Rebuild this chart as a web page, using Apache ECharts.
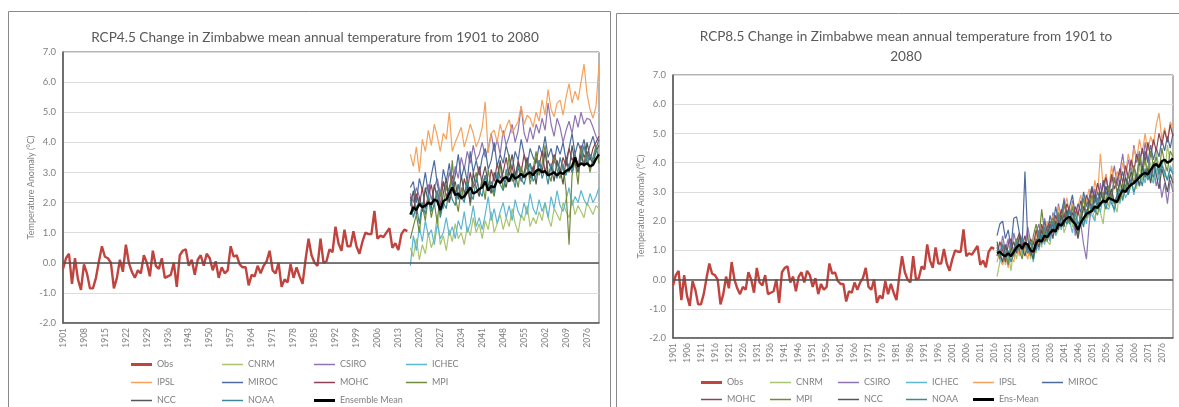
<!DOCTYPE html>
<html><head><meta charset="utf-8">
<script src="https://cdn.jsdelivr.net/npm/echarts@6/dist/echarts.min.js"></script>
<style>html,body{margin:0;padding:0;background:#fff}#c{width:1179px;height:407px}</style>
</head><body><div id="c"></div>
<script>
// ---------- categories ----------
const firstYear = 1901, lastYear = 2080, projStart = 2017;
const years = [];
for (let y = firstYear; y <= lastYear; y++) years.push(String(y));

// ---------- observed anomaly 1901-2016 ----------
const obs = [
 -0.2, 0.15, 0.3, -0.7, 0.15, -0.55, -0.9, -0.05, -0.35, -0.85,
 -0.85, -0.5, 0.05, 0.55, 0.2, 0.15, 0.0, -0.85, -0.5, 0.1,
 -0.3, 0.6, 0.0, -0.3, -0.5, -0.25, -0.35, 0.25, 0.0, -0.45,
 0.4, -0.1, -0.2, 0.15, -0.5, -0.45, -0.4, 0.0, -0.8, 0.25,
 0.4, 0.45, -0.1, 0.1, -0.4, 0.1, 0.25, -0.1, 0.3, 0.15,
 -0.25, 0.05, -0.5, -0.15, -0.35, -0.25, 0.55, 0.2, 0.25, -0.05,
 -0.15, -0.15, -0.75, -0.4, -0.45, -0.1, -0.35, -0.1, 0.05, 0.4,
 -0.25, -0.35, 0.0, -0.8, -0.55, -0.65, -0.05, -0.5, -0.15, -0.45,
 -0.7, 0.1, 0.8, 0.25, 0.0, -0.1, 0.8, 0.0, 0.05, 0.45,
 0.35, 1.2, 0.65, 0.4, 1.1, 0.55, 0.55, 1.05, 0.55, 0.3,
 0.7, 1.0, 0.95, 0.95, 1.72, 0.8, 0.9, 0.85, 1.0, 1.15,
 0.5, 0.65, 0.42, 0.95, 1.1, 1.05
];

// ---------- RCP4.5 projections 2017-2080 ----------
const cnrm45 = [0.5,0.2,0.8,0.1,0.6,0.3,1.0,0.5,0.8,1.6, 0.6,0.9,0.4,1.1,0.7,1.3,0.8,1.0,0.6,1.2, 0.9,1.5,1.0,1.3,0.8,1.4,1.1,1.7,1.0,1.3, 1.6,1.1,1.5,1.2,1.8,1.3,1.0,1.6,1.4,1.9, 1.2,1.5,1.3,1.7,1.4,2.0,1.5,1.2,1.8,1.6, 1.4,2.0,1.7,1.5,2.1,1.6,1.9,1.7,1.5,2.0, 1.8,1.6,1.9,1.8];
const csiro45 = [2.3,2.0,2.5,2.2,1.8,2.4,2.6,2.1,2.5,2.8, 2.3,2.7,2.4,3.0,2.6,3.2,2.8,3.5,3.1,3.7, 3.3,3.9,3.4,3.6,4.0,3.5,3.8,4.3,3.7,4.1, 3.6,4.4,3.9,4.2,4.6,4.0,4.4,5.2,4.3,4.0, 4.5,4.1,4.6,4.3,4.8,4.4,5.3,4.6,4.2,4.8, 4.5,4.0,4.4,4.7,4.3,4.9,4.5,5.0,4.6,4.8, 4.75,4.5,4.2,4.0];
const ichec45 = [-0.1,0.9,0.4,1.2,0.7,1.4,0.9,1.1,0.6,1.3, 0.8,1.0,1.5,0.9,1.2,0.8,1.4,1.1,1.7,1.0, 1.3,1.9,1.2,1.5,1.1,1.6,2.2,1.4,1.8,1.3, 1.7,2.0,1.5,1.9,1.4,2.1,1.7,1.5,2.0,1.6, 2.3,1.8,1.6,2.1,1.7,2.0,1.5,2.2,1.8,2.4, 1.9,1.7,2.1,2.5,1.9,2.2,2.0,2.4,2.1,1.9, 2.3,2.0,2.2,2.5];
const ipsl45 = [3.6,3.2,3.85,3.0,4.1,3.7,4.4,3.9,4.6,4.2, 3.7,4.3,4.1,5.0,3.7,4.0,4.25,4.5,3.85,4.2, 4.6,4.3,3.85,4.1,4.5,5.35,3.65,4.3,4.4,4.0, 4.6,4.2,4.5,4.75,4.3,4.5,4.7,5.2,4.6,4.9, 4.8,4.5,5.0,4.7,5.4,4.9,5.75,5.1,4.85,5.3, 5.4,4.9,5.5,5.95,5.3,5.7,5.4,6.0,6.6,5.6, 5.1,4.8,5.2,6.6];
const miroc45 = [2.5,2.7,2.0,2.8,2.4,3.0,2.3,2.9,3.4,2.6, 2.2,3.1,2.7,3.3,2.5,2.9,3.6,2.8,3.2,2.7, 3.7,3.0,3.4,2.9,3.5,3.8,3.1,3.4,4.0,3.2, 3.6,3.3,3.9,3.5,3.1,3.7,3.4,4.1,3.6,3.2, 3.8,3.5,3.3,3.9,3.6,4.2,3.5,3.8,3.3,3.9, 3.6,4.0,3.4,3.8,4.3,3.6,4.0,3.7,4.1,3.5, 3.9,4.2,3.8,4.1];
const mohc45 = [2.2,1.7,2.3,1.9,2.5,1.8,2.2,2.6,2.0,2.4, 1.9,2.7,2.2,2.5,2.9,2.3,2.6,2.1,2.8,2.4, 3.0,2.5,2.7,3.2,2.6,2.9,2.4,3.1,2.7,3.3, 2.8,3.0,3.5,2.9,3.2,2.7,3.4,3.0,3.6,3.1, 3.3,2.9,3.5,3.2,3.7,3.0,3.4,3.1,3.6,3.3, 3.0,3.5,3.2,3.8,3.4,3.6,3.1,3.9,3.5,3.7, 3.4,3.8,4.0,4.2];
const mpi45 = [0.8,1.2,1.6,1.0,1.9,1.4,2.2,1.5,2.0,1.3, 2.4,1.8,2.6,2.0,3.4,2.2,1.7,2.5,2.1,2.8, 1.9,2.6,3.0,2.3,2.7,2.1,3.1,2.5,2.2,2.9, 3.3,2.4,2.8,3.6,2.7,3.0,2.5,3.2,2.8,3.4, 2.6,3.1,3.7,2.9,3.3,3.9,3.0,2.7,3.5,3.1, 2.8,3.3,2.4,0.6,2.9,3.4,2.6,3.8,3.2,3.6, 3.0,3.5,3.9,3.3];
const ncc45 = [1.9,2.4,1.6,2.2,1.7,2.5,2.0,1.8,2.6,2.1, 1.6,2.3,2.8,2.0,2.4,2.7,2.1,2.9,2.3,2.6, 2.0,3.0,2.5,2.2,2.8,3.2,2.6,2.3,3.0,2.7, 3.4,2.8,2.5,3.1,3.6,2.9,3.3,2.7,3.0,3.5, 2.8,3.2,2.6,3.4,3.0,3.7,2.9,3.2,2.7,3.4, 3.1,2.6,3.5,3.0,3.9,3.3,3.0,3.6,3.2,4.0, 3.5,3.3,3.7,3.9];
const noaa45 = [2.1,1.5,1.9,1.3,2.0,1.6,2.3,1.7,1.9,2.4, 1.5,2.0,1.8,2.5,2.1,1.9,2.6,2.2,2.0,2.7, 2.3,2.1,2.8,2.4,2.2,2.9,2.5,2.7,2.3,3.0, 2.6,2.4,3.1,2.7,2.9,2.5,3.2,2.8,2.6,3.0, 3.3,2.7,2.9,3.4,2.8,3.1,2.6,3.3,3.0,2.8, 3.5,3.1,2.9,3.3,3.0,3.6,3.2,3.4,3.9,3.3, 3.6,3.4,3.8,3.5];
const ens45 = [1.6,1.85,1.75,1.95,1.85,1.9,2.0,1.95,2.1,2.05, 1.75,2.05,2.1,2.3,2.5,2.25,2.3,2.15,2.2,2.35, 2.5,2.3,2.35,2.45,2.5,2.7,2.4,2.55,2.5,2.75, 2.65,2.8,2.85,2.7,2.95,2.8,2.85,2.95,2.85,2.95, 3.0,2.9,3.05,3.1,3.0,3.05,2.9,2.95,3.0,2.9, 3.0,2.95,3.05,3.1,3.2,3.5,3.2,3.3,3.25,3.3, 3.2,3.25,3.45,3.6];

// ---------- RCP8.5 projections 2017-2080 ----------
const cnrm85 = [0.1,0.6,1.3,0.5,0.9,0.3,1.1,0.7,1.4,0.8, 1.0,1.6,0.7,1.2,0.9,1.5,1.1,1.8,1.3,1.2, 2.0,1.5,1.7,2.3,1.6,1.9,2.5,1.8,2.2,1.6, 2.4,1.9,2.7,2.1,2.5,2.0,2.8,2.3,1.9,2.9, 2.5,3.1,2.6,2.3,3.3,2.8,3.5,2.9,3.2,3.7, 3.1,3.9,3.4,4.2,3.6,4.0,3.3,4.4,3.8,4.1, 3.5,4.6,4.0,4.3];
const csiro85 = [1.2,0.8,1.5,1.0,1.4,0.7,1.6,1.2,0.9,1.5, 1.1,1.8,1.3,0.8,1.6,1.9,1.2,2.1,1.7,1.4, 2.3,1.8,2.6,2.0,2.8,2.2,1.9,2.7,1.5,2.4, 1.9,1.2,0.7,1.9,2.6,3.1,2.4,3.3,2.7,3.6, 2.9,3.4,3.9,3.2,3.7,4.3,3.5,4.1,3.7,4.6, 4.0,4.4,3.8,4.7,4.1,3.5,3.9,3.2,3.6,2.8, 3.3,2.6,3.4,3.0];
const ichec85 = [1.1,0.7,0.5,1.0,0.6,1.2,0.8,1.0,1.4,0.9, 1.3,0.9,1.1,0.6,1.2,1.0,1.5,1.2,1.6,1.3, 1.9,1.5,2.1,1.7,2.3,1.9,2.0,1.6,2.2,1.8, 2.1,2.4,1.9,2.6,2.2,2.0,2.7,2.3,2.9,2.5, 2.4,2.8,2.3,3.0,2.6,3.2,2.8,3.0,3.4,2.9, 3.5,3.2,3.7,3.3,3.9,3.5,3.3,3.8,3.4,4.0, 3.6,3.4,3.9,3.7];
const ipsl85 = [0.6,1.0,0.5,0.9,0.4,0.8,0.6,1.2,0.8,1.4, 1.0,0.7,1.3,0.9,1.6,1.2,1.8,1.4,2.0,1.6, 2.2,1.9,2.5,2.0,2.4,2.8,2.2,2.6,2.1,2.5, 2.9,2.3,2.7,3.1,2.6,3.4,2.9,4.3,3.2,3.6, 3.0,3.9,3.3,3.7,3.4,4.0,3.6,4.3,3.8,4.5, 4.1,4.8,4.3,5.0,4.4,4.9,4.6,5.3,5.7,4.8, 5.2,4.7,5.4,5.2];
const miroc85 = [1.5,1.9,2.0,1.4,1.7,1.1,2.1,2.15,1.6,1.2, 3.7,1.4,0.9,1.3,1.0,1.7,1.4,2.0,1.6,2.2, 1.8,2.5,2.0,2.3,2.7,2.1,2.5,2.9,2.2,2.6, 2.3,3.0,2.5,2.8,3.2,2.6,3.0,2.7,3.4,2.9, 3.2,2.8,3.5,3.0,3.3,3.7,3.1,3.6,3.3,3.9, 3.5,4.2,3.7,4.4,4.0,4.6,4.1,4.5,4.2,4.8, 4.4,4.9,4.5,5.0];
const mohc85 = [0.8,1.3,1.0,0.6,1.2,1.4,0.9,1.3,1.6,1.1, 1.5,1.0,1.4,1.2,1.7,1.3,1.9,1.5,1.8,2.0, 1.6,2.2,1.9,2.4,2.1,2.6,2.3,2.0,2.5,2.2, 2.7,2.4,2.9,2.6,3.1,2.8,3.3,2.9,3.2,3.5, 3.0,3.6,3.1,3.4,3.8,3.3,3.9,3.5,4.1,3.7, 4.3,3.9,4.5,4.0,4.7,4.2,4.8,4.4,5.0,4.6, 5.1,4.7,5.3,4.9];
const mpi85 = [1.0,0.7,1.2,0.9,0.5,1.1,0.8,1.4,1.0,0.7, 1.3,1.1,0.8,1.5,1.9,1.4,2.4,1.6,1.3,1.9, 2.1,1.7,2.3,1.8,2.6,2.2,1.9,2.5,2.0,1.5, 2.2,2.8,2.1,2.5,2.9,2.4,2.2,2.8,3.0,2.6, 3.2,2.7,3.5,3.0,2.7,3.3,3.0,3.6,3.2,3.9, 3.4,4.3,3.7,4.1,3.5,4.4,3.9,4.2,3.6,4.5, 4.0,3.7,4.4,4.2];
const ncc85 = [1.3,0.9,0.6,1.2,0.8,1.0,1.3,0.9,1.5,1.1, 0.8,1.2,1.0,0.7,1.4,1.1,1.7,1.3,1.5,1.9, 1.4,2.0,1.7,2.2,1.8,2.4,2.0,2.3,1.8,1.4, 2.0,2.5,2.2,2.7,2.4,2.9,2.5,3.0,2.7,3.2, 2.8,3.1,2.6,2.9,3.4,3.0,3.5,3.2,3.7,3.3, 3.6,3.2,3.9,3.5,3.8,3.3,4.0,3.6,3.1,3.8, 3.4,3.0,3.6,3.3];
const noaa85 = [1.1,0.8,1.2,0.7,1.0,0.6,0.9,1.3,1.0,1.4, 1.2,0.9,1.3,1.0,1.2,1.6,1.3,1.8,1.5,1.7, 2.0,1.6,2.2,1.8,2.1,1.9,2.4,2.0,2.3,1.9, 2.1,1.8,2.4,2.2,2.6,2.3,2.8,2.5,2.7,2.4, 2.9,2.6,2.4,2.8,3.1,2.7,3.2,2.9,3.4,3.0, 3.3,3.6,3.2,3.8,3.4,3.7,3.5,4.0,3.6,3.9, 3.7,3.4,3.8,3.6];
const ens85 = [0.9,0.95,0.85,0.8,0.9,0.8,0.95,1.1,1.2,1.05, 1.25,1.2,1.0,0.95,1.25,1.35,1.3,1.5,1.45,1.6, 1.7,1.65,1.9,1.85,2.0,2.1,2.15,2.0,1.9,1.7, 1.95,2.1,2.25,2.3,2.35,2.5,2.45,2.6,2.7,2.65, 2.8,2.75,2.7,2.65,2.9,3.05,3.0,3.15,3.25,3.3, 3.4,3.5,3.6,3.65,3.6,3.75,3.9,3.95,3.85,4.05, 4.1,4.0,4.05,4.15];

const yTicks = [-2, -1, 0, 1, 2, 3, 4, 5, 6, 7];

// ---------- styling ----------
const FONT = 'Lato, "Liberation Sans", sans-serif';
const GREY = '#7f7f7f';
const colors = {
  Obs: '#C0433E', CNRM: '#A9C56F', CSIRO: '#8E74B2', ICHEC: '#5DB7D0', IPSL: '#F6A15C',
  MIROC: '#4D6B9C', MOHC: '#8B4356', MPI: '#6F8A3B', NCC: '#565656', NOAA: '#3C8A98', Mean: '#000000'
};
const obsPad = new Array(lastYear - projStart + 1).fill(null);
const projPad = new Array(projStart - firstYear).fill(null);

function line(name, data, color, width, gi, isObs) {
  const s = {
    name: name, type: 'line', xAxisIndex: gi, yAxisIndex: gi,
    data: isObs ? data.concat(obsPad) : projPad.concat(data),
    symbol: 'none', showSymbol: false, connectNulls: false, silent: true,
    lineStyle: { color: color, width: width }, itemStyle: { color: color },
    emphasis: { disabled: true }
  };
  if (isObs) {
    s.markLine = { silent: true, symbol: 'none', label: { show: false },
      lineStyle: { color: '#505050', width: 1.6, type: 'solid' }, data: [{ yAxis: 0 }] };
  }
  return s;
}
function panelSeries(gi, set, meanName) {
  return [
    line('Obs', obs, colors.Obs, 2.4, gi, true),
    line('CNRM', set.cnrm, colors.CNRM, 1.2, gi),
    line('CSIRO', set.csiro, colors.CSIRO, 1.2, gi),
    line('ICHEC', set.ichec, colors.ICHEC, 1.2, gi),
    line('IPSL', set.ipsl, colors.IPSL, 1.2, gi),
    line('MIROC', set.miroc, colors.MIROC, 1.2, gi),
    line('MOHC', set.mohc, colors.MOHC, 1.2, gi),
    line('MPI', set.mpi, colors.MPI, 1.2, gi),
    line('NCC', set.ncc, colors.NCC, 1.2, gi),
    line('NOAA', set.noaa, colors.NOAA, 1.2, gi),
    line(meanName, set.ens, colors.Mean, 2.4, gi)
  ];
}
const set45 = { cnrm: cnrm45, csiro: csiro45, ichec: ichec45, ipsl: ipsl45, miroc: miroc45, mohc: mohc45, mpi: mpi45, ncc: ncc45, noaa: noaa45, ens: ens45 };
const set85 = { cnrm: cnrm85, csiro: csiro85, ichec: ichec85, ipsl: ipsl85, miroc: miroc85, mohc: mohc85, mpi: mpi85, ncc: ncc85, noaa: noaa85, ens: ens85 };

function xAx(gi, interval) {
  return {
    type: 'category', gridIndex: gi, data: years, boundaryGap: false,
    axisLine: { show: true, onZero: false, lineStyle: { color: '#595959', width: 1.5 } },
    axisTick: { show: false },
    axisLabel: { interval: interval, rotate: 90, fontSize: 8.5, color: GREY, fontFamily: FONT, margin: 5 },
    splitLine: { show: false }
  };
}
function yAx(gi) {
  return {
    type: 'value', gridIndex: gi, min: yTicks[0], max: yTicks[yTicks.length - 1], interval: 1,
    name: 'Temperature Anomaly (°C)', nameLocation: 'middle', nameGap: 27, nameRotate: 90,
    nameTextStyle: { fontSize: 9, color: GREY, fontFamily: FONT },
    axisLine: { show: true, lineStyle: { color: '#595959', width: 1.5 } },
    axisTick: { show: false },
    axisLabel: { fontSize: 9.5, color: GREY, fontFamily: FONT, margin: 7, formatter: v => v.toFixed(1) },
    splitLine: { show: true, lineStyle: { color: '#dcdcdc', width: 1 } }
  };
}
const THIN = 'path://M0,0H21V1.5H0Z';
const THICK = 'path://M0,0H21V3H0Z';
const thickNames = ['Obs', 'Ensemble Mean', 'Ens-Mean'];
function legendRow(names, lefts, top) {
  return names.map((n, i) => ({
    data: [{ name: n, icon: thickNames.indexOf(n) >= 0 ? THICK : THIN }],
    left: lefts[i], top: top, orient: 'horizontal', itemGap: 0,
    itemWidth: 21, itemHeight: 8, selectedMode: false, padding: 0, symbolKeepAspect: true,
    textStyle: { fontSize: 9, color: GREY, fontFamily: FONT }
  }));
}
const leftCols = [131, 222, 314, 406];
const rightCols = [701, 770, 838, 906, 973, 1042];

const chart = echarts.init(document.getElementById('c'), null, { renderer: 'canvas' });
chart.setOption({
  animation: false,
  backgroundColor: '#ffffff',
  title: [
    { text: 'RCP4.5 Change in Zimbabwe mean annual temperature from 1901 to 2080', left: 310, top: 23, textAlign: 'center',
      textStyle: { fontSize: 13.6, fontWeight: 'normal', color: '#595959', fontFamily: FONT, lineHeight: 20 } },
    { text: 'RCP8.5 Change in Zimbabwe mean annual temperature from 1901 to\n2080', left: 901, top: 22, textAlign: 'center',
      textStyle: { fontSize: 13.6, fontWeight: 'normal', color: '#595959', fontFamily: FONT, lineHeight: 20 } }
  ],
  grid: [
    { left: 63, top: 52, width: 536, height: 271, show: true, borderColor: '#6a6a6a', borderWidth: 1, outerBoundsMode: 'none', containLabel: false },
    { left: 673, top: 75, width: 500, height: 263, show: true, borderColor: '#6a6a6a', borderWidth: 1, outerBoundsMode: 'none', containLabel: false }
  ],
  xAxis: [xAx(0, 6), xAx(1, 4)],
  yAxis: [yAx(0), yAx(1)],
  legend: [].concat(
    legendRow(['Obs', 'CNRM', 'CSIRO', 'ICHEC'], leftCols, 360),
    legendRow(['IPSL', 'MIROC', 'MOHC', 'MPI'], leftCols, 378),
    legendRow(['NCC', 'NOAA', 'Ensemble Mean'], leftCols, 396),
    legendRow(['Obs', 'CNRM', 'CSIRO', 'ICHEC', 'IPSL', 'MIROC'], rightCols, 378),
    legendRow(['MOHC', 'MPI', 'NCC', 'NOAA', 'Ens-Mean'], rightCols, 395)
  ),
  graphic: [
    { type: 'rect', silent: true, shape: { x: 8.5, y: 11.5, width: 602, height: 420 }, style: { fill: 'none', stroke: '#8a8a8a', lineWidth: 1 } },
    { type: 'rect', silent: true, shape: { x: 616.5, y: 13.5, width: 580, height: 420 }, style: { fill: 'none', stroke: '#8a8a8a', lineWidth: 1 } }
  ],
  series: panelSeries(0, set45, 'Ensemble Mean').concat(panelSeries(1, set85, 'Ens-Mean'))
});
</script>
</body></html>
